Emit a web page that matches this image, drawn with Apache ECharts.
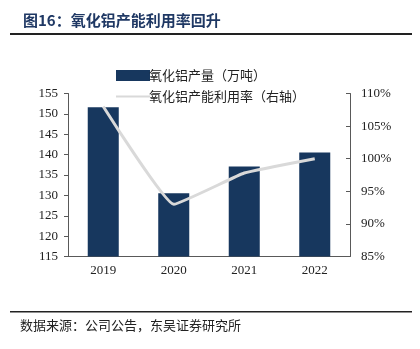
<!DOCTYPE html>
<html><head><meta charset="utf-8">
<script src="https://cdn.jsdelivr.net/npm/echarts@6/dist/echarts.min.js"></script>
<style>html,body{margin:0;padding:0;background:#fff}#c{width:420px;height:349px}</style>
</head><body><div id="c"></div>
<script>
const categories = ['2019', '2020', '2021', '2022'];
const production = [151.6, 130.5, 137.1, 140.5];
const utilization = [108.0, 93.0, 97.8, 100.0];
const leftTicks = [115, 155, 5];
const rightTicks = [85, 110, 5];

const chart = echarts.init(document.getElementById('c'));
const serif = '"Liberation Serif", "Noto Sans CJK SC", serif';
const cjk = '"Noto Sans CJK SC", sans-serif';
chart.setOption({
  animation: false,
  backgroundColor: '#fff',
  title: {
    text: '图16：氧化铝产能利用率回升',
    left: 18, top: 8,
    textStyle: { fontFamily: cjk, fontSize: 15, fontWeight: 'bold', color: '#1f3864' }
  },
  graphic: [
    { type: 'rect', shape: { x: 10, y: 33, width: 402, height: 2 }, style: { fill: '#222' } },
    { type: 'rect', shape: { x: 10, y: 311, width: 402, height: 1.5 }, style: { fill: '#222' } },
    { type: 'text', left: 20, top: 319, style: { text: '数据来源：公司公告，东吴证券研究所', font: '13px "Noto Sans CJK SC"', fill: '#222' } }
  ],
  legend: {
    orient: 'vertical', left: 110, top: 64, itemGap: 8, itemWidth: 34, itemHeight: 11,
    textStyle: { fontFamily: cjk, fontSize: 13, color: '#222', padding: [0, 0, 0, -6] },
    data: [
      { name: '氧化铝产量（万吨）', icon: 'rect' },
      { name: '氧化铝产能利用率（右轴）', itemStyle: { opacity: 0 } }
    ]
  },
  grid: { left: 68, right: 70, top: 93.5, bottom: 92.5 },
  xAxis: {
    type: 'category', data: categories,
    axisLine: { lineStyle: { color: '#595959' } },
    axisTick: { inside: true, length: 4, lineStyle: { color: '#595959' } },
    axisLabel: { fontFamily: serif, fontSize: 13, color: '#222', margin: 8 }
  },
  yAxis: [
    {
      type: 'value', min: leftTicks[0], max: leftTicks[1], interval: leftTicks[2],
      axisLine: { show: true, lineStyle: { color: '#595959' } },
      axisTick: { show: true, length: 4, lineStyle: { color: '#595959' } },
      splitLine: { show: false },
      axisLabel: { fontFamily: serif, fontSize: 13, color: '#222', margin: 10 }
    },
    {
      type: 'value', min: rightTicks[0], max: rightTicks[1], interval: rightTicks[2],
      axisLine: { show: true, lineStyle: { color: '#595959' } },
      axisTick: { show: true, inside: true, length: 4, lineStyle: { color: '#595959' } },
      splitLine: { show: false },
      axisLabel: { fontFamily: serif, fontSize: 13, color: '#222', margin: 11, formatter: '{value}%' }
    }
  ],
  series: [
    {
      name: '氧化铝产量（万吨）', type: 'bar', data: production, barWidth: '44%',
      itemStyle: { color: '#17375e' }
    },
    {
      name: '氧化铝产能利用率（右轴）', type: 'line', yAxisIndex: 1, data: utilization,
      smooth: 0.1, symbol: 'none', lineStyle: { color: '#d9d9d9', width: 3 },
      itemStyle: { color: '#d9d9d9' }
    }
  ]
});
</script></body></html>
